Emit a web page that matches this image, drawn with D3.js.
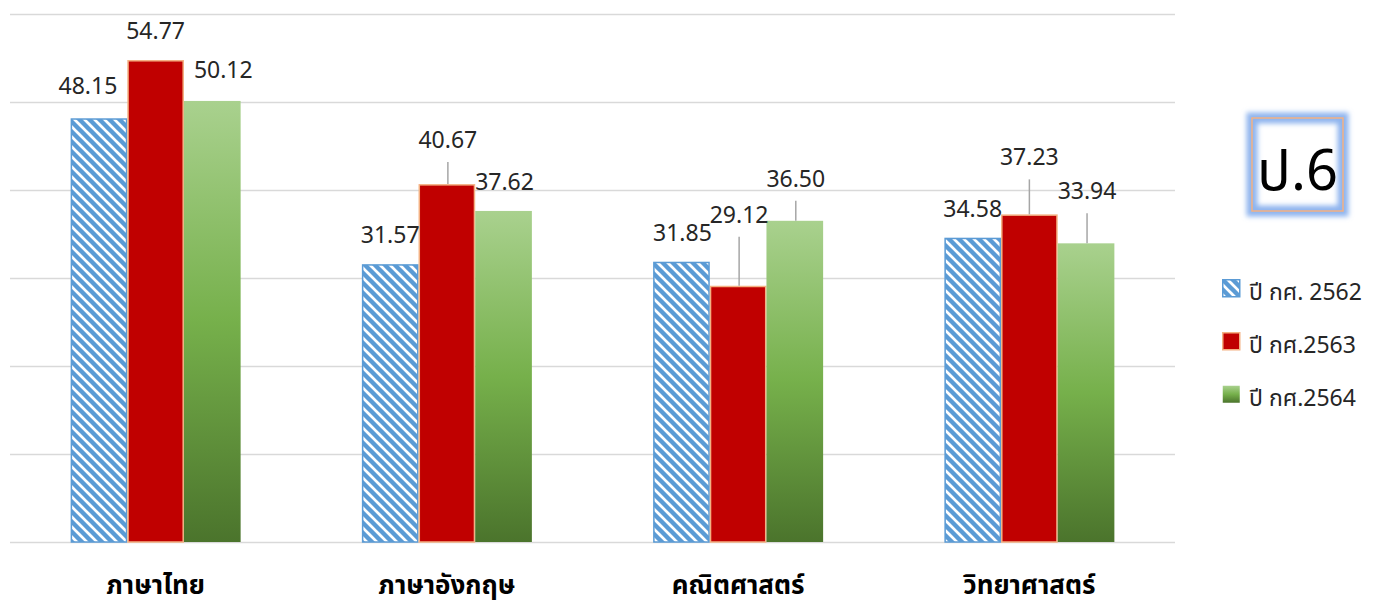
<!DOCTYPE html>
<html>
<head>
<meta charset="utf-8">
<script src="https://cdn.jsdelivr.net/npm/d3@7"></script>
<style>
  html, body { margin: 0; padding: 0; background: #fff; }
  svg { display: block; }
  text { font-family: "Noto Sans", "Noto Sans Thai", "Leelawadee UI", "Tahoma", sans-serif; }
</style>
</head>
<body>
<svg id="chart" width="1373" height="601"></svg>
<script>
// ---- data ----
const categories = ["ภาษาไทย", "ภาษาอังกฤษ", "คณิตศาสตร์", "วิทยาศาสตร์"];
const seriesNames = ["ปี กศ. 2562", "ปี กศ.2563", "ปี กศ.2564"];
const values2562 = [48.15, 31.57, 31.85, 34.58];
const values2563 = [54.77, 40.67, 29.12, 37.23];
const values2564 = [50.12, 37.62, 36.50, 33.94];
const yTicks = [0, 10, 20, 30, 40, 50, 60];
const badgeText = "ป.6";

// manual label nudges (pixels): [dx, extra lift] per series per category
const labelNudge = [
  [[-11, 3], [0, 0], [1, 0], [0, 0]],
  [[0, 0], [1, 15], [1, 42], [0, 28]],
  [[11, 2], [1, 0], [1, 13], [1, 23]]
];

const seriesValues = [values2562, values2563, values2564];

const svg = d3.select("#chart");
const defs = svg.append("defs");

// hatch pattern
const P = 10;
const pat = defs.append("pattern")
  .attr("id", "hatch").attr("patternUnits", "userSpaceOnUse")
  .attr("width", P).attr("height", P);
pat.append("rect").attr("width", P).attr("height", P).attr("fill", "#fff");
pat.append("path")
  .attr("d", `M-2,-2 L${P + 2},${P + 2} M-2,${P - 2} L2,${P + 2} M${P - 2},-2 L${P + 2},2`)
  .attr("stroke", "#5b9bd5").attr("stroke-width", 4.4);

// green gradient
const grad = defs.append("linearGradient")
  .attr("id", "greenGrad").attr("x1", 0).attr("y1", 0).attr("x2", 0).attr("y2", 1);
grad.append("stop").attr("offset", "0%").attr("stop-color", "#a9d18e");
grad.append("stop").attr("offset", "50%").attr("stop-color", "#76b04b");
grad.append("stop").attr("offset", "100%").attr("stop-color", "#4b742c");

// glow filter
const glow = defs.append("filter").attr("id", "glow")
  .attr("x", "-30%").attr("y", "-30%").attr("width", "160%").attr("height", "160%");
glow.append("feGaussianBlur").attr("stdDeviation", 2.5);

const fills = ["url(#hatch)", "#c00000", "url(#greenGrad)"];
const strokes = ["#5b9bd5", "#f4b183", "none"];

// scales
const plotLeft = 10, plotRight = 1175, plotTop = 14, plotBottom = 542;
const x = d3.scaleBand().domain(categories).range([plotLeft, plotRight]).padding(0);
const groupW = 170;
const xs = d3.scaleBand().domain(d3.range(3)).range([0, groupW]).padding(0);
const y = d3.scaleLinear().domain([0, 60]).range([plotBottom, plotTop]);

// gridlines
const yAxis = d3.axisLeft(y).tickValues(yTicks).tickSize(-(plotRight - plotLeft)).tickFormat("");
const gAxis = svg.append("g").attr("transform", `translate(${plotLeft},0)`).call(yAxis);
gAxis.select(".domain").remove();
gAxis.selectAll(".tick line").attr("stroke", "#d9d9d9").attr("stroke-width", 1.5);

// bars
const data = [];
categories.forEach((c, ci) => {
  seriesValues.forEach((vals, si) => {
    data.push({ c, ci, si, v: vals[ci] });
  });
});
const barX = d => x(d.c) + (x.bandwidth() - groupW) / 2 + xs(d.si);

svg.append("g").selectAll("rect").data(data).join("rect")
  .attr("x", d => barX(d) + (d.si === 2 ? 0 : 0.75))
  .attr("y", d => y(d.v) + (d.si === 2 ? 0 : 0.75))
  .attr("width", d => xs.bandwidth() - (d.si === 2 ? 0 : 1.5))
  .attr("height", d => y(0) - y(d.v) - (d.si === 2 ? 0 : 0.75))
  .attr("fill", d => fills[d.si])
  .attr("stroke", d => strokes[d.si])
  .attr("stroke-width", 1.5);

// labels + leader lines
const labG = svg.append("g");
data.forEach(d => {
  const [dx, lift] = labelNudge[d.si][d.ci];
  const cx = barX(d) + xs.bandwidth() / 2 + dx;
  const base = y(d.v) - 21 - lift;
  if (lift > 5) {
    labG.append("line")
      .attr("x1", cx).attr("x2", cx)
      .attr("y1", base + 14).attr("y2", y(d.v))
      .attr("stroke", "#a6a6a6").attr("stroke-width", 1.5);
  }
  labG.append("text")
    .attr("x", cx).attr("y", base)
    .attr("text-anchor", "middle")
    .attr("font-size", 23)
    .attr("fill", "#262626")
    .text(d3.format(".2f")(d.v));
});

// category labels
svg.append("g").selectAll("text").data(categories).join("text")
  .attr("x", d => x(d) + x.bandwidth() / 2)
  .attr("y", 594)
  .attr("text-anchor", "middle")
  .attr("font-size", 26)
  .attr("font-weight", "bold")
  .attr("fill", "#000")
  .text(d => d);

// legend
const leg = svg.append("g").attr("transform", "translate(1222,279)");
seriesNames.forEach((s, i) => {
  const g = leg.append("g").attr("transform", `translate(0,${i * 53})`);
  g.append("rect").attr("x", 0.75).attr("y", 0.75).attr("width", 17).attr("height", 17)
    .attr("fill", fills[i]).attr("stroke", strokes[i]).attr("stroke-width", 1.5);
  g.append("text").attr("x", 27).attr("y", 21).attr("font-size", 23)
    .attr("fill", "#262626").text(s);
});

// badge
const badge = svg.append("g").attr("transform", "translate(1252,118)");
badge.append("rect").attr("width", 91).attr("height", 93)
  .attr("fill", "none").attr("stroke", "#8eb4ee").attr("stroke-width", 11)
  .attr("filter", "url(#glow)");
badge.append("rect").attr("width", 91).attr("height", 93)
  .attr("fill", "none").attr("stroke", "#f4b183").attr("stroke-width", 1.5);
badge.append("text").attr("x", 45.5).attr("y", 72).attr("text-anchor", "middle")
  .attr("font-size", 56).attr("fill", "#000").text(badgeText);
</script>
</body>
</html>
